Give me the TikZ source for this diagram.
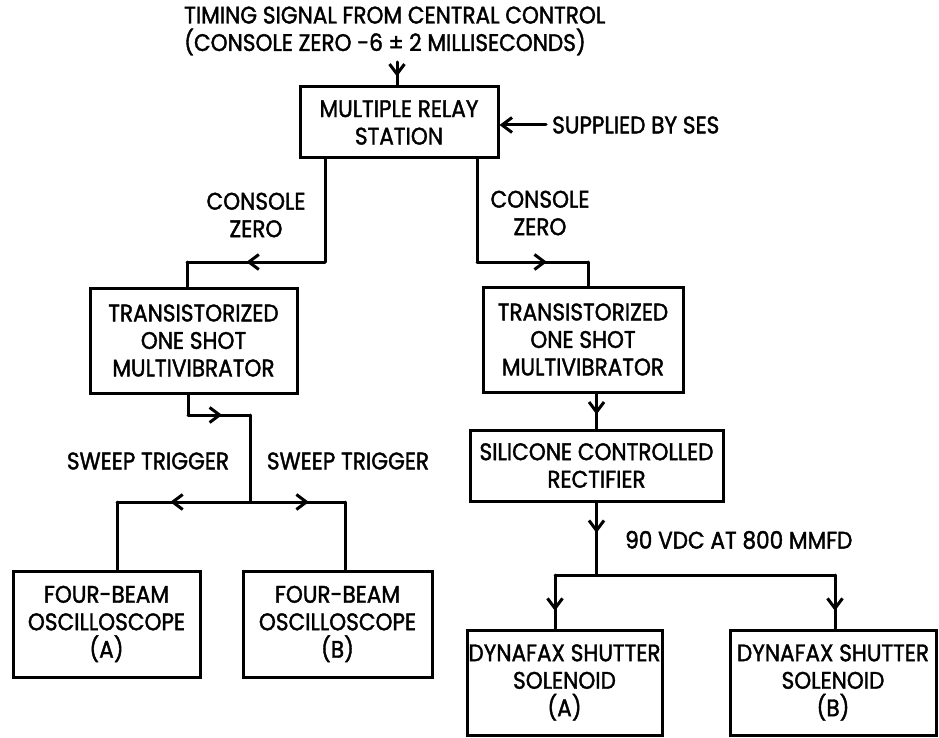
\documentclass[tikz,border=0pt]{standalone}
\usepackage{fontspec}
\setmainfont{Poppins}[FakeStretch=0.9, FakeBold=1.6]
\usetikzlibrary{arrows.meta,decorations.markings}
\tikzset{
  wire/.style={line width=3pt, line cap=round, line join=round},
  box/.style={draw, line width=3pt, align=center, inner sep=0pt, font=\fontsize{24}{27.5}\selectfont},
  lbl/.style={align=center, inner sep=0pt, font=\fontsize{24}{27.5}\selectfont},
  barb/.style={postaction={decorate}, decoration={markings, mark=at position #1 with {\arrow[line width=3pt]{Straight Barb[length=10pt,width=15pt]}}}}
}
\begin{document}
\begin{tikzpicture}[x=1pt,y=-1pt]
\useasboundingbox (0,0) rectangle (939,738);
% texts
\node[lbl, align=left, anchor=west] (top) at (184,31) {TIMING SIGNAL FROM CENTRAL CONTROL\\(CONSOLE ZERO -6 ± 2 MILLISECONDS)};
\node[box, minimum width=198, minimum height=71] (mrs) at (399,122.5) {MULTIPLE RELAY\\STATION};
\node[lbl, anchor=west] (sup) at (552,125) {SUPPLIED BY SES};
\node[lbl] (cz1) at (256,215) {CONSOLE\\ZERO};
\node[lbl] (cz2) at (540,213) {CONSOLE\\ZERO};
\node[box, minimum width=207, minimum height=105] (tos1) at (193.5,340.5) {TRANSISTORIZED\\ONE SHOT\\MULTIVIBRATOR};
\node[box, minimum width=200, minimum height=105] (tos2) at (583,339.5) {TRANSISTORIZED\\ONE SHOT\\MULTIVIBRATOR};
\node[box, minimum width=253, minimum height=71] (scr) at (596.5,465.5) {SILICONE CONTROLLED\\RECTIFIER};
\node[lbl] (sw1) at (148,461) {SWEEP TRIGGER};
\node[lbl] (sw2) at (348,461) {SWEEP TRIGGER};
\node[lbl, anchor=west] (vdc) at (625,540) {90 VDC AT 800 MMFD};
\node[box, minimum width=187, minimum height=106] (osA) at (106.5,624) {FOUR-BEAM\\OSCILLOSCOPE\\(A)};
\node[box, minimum width=189, minimum height=106] (osB) at (337.5,624) {FOUR-BEAM\\OSCILLOSCOPE\\(B)};
\node[box, minimum width=195, minimum height=105] (dyA) at (564.5,682.5) {DYNAFAX SHUTTER\\SOLENOID\\(A)};
\node[box, minimum width=206, minimum height=105] (dyB) at (833,682.5) {DYNAFAX SHUTTER\\SOLENOID\\(B)};
% coordinates
\coordinate (t0) at (397,62);
\coordinate (l1) at (325,262);
\coordinate (l2) at (187,262);
\coordinate (r1) at (477,262);
\coordinate (r2) at (588,262);
\coordinate (s1) at (188,415);
\coordinate (s2) at (250,415);
\coordinate (s3) at (250,502);
\coordinate (s4) at (117,502);
\coordinate (s5) at (345,502);
\coordinate (d1) at (589,575);
\coordinate (d2) at (555,575);
\coordinate (d3) at (835,575);
\coordinate (sp) at (546,125);
% connectors
\draw[wire, barb=0.62] (t0) -- (t0 |- mrs.north);
\draw[wire, -{Straight Barb[length=10pt,width=15pt]}] (sp) -- (mrs.east |- sp);
\draw[wire] (mrs.south -| l1) -- (l1);
\draw[wire, barb=0.57] (l1) -- (l2);
\draw[wire] (l2) -- (tos1.north -| l2);
\draw[wire] (mrs.south -| r1) -- (r1);
\draw[wire, barb=0.63] (r1) -- (r2);
\draw[wire] (r2) -- (tos2.north -| r2);
\draw[wire] (tos1.south -| s1) -- (s1);
\draw[wire, barb=0.55] (s1) -- (s2);
\draw[wire] (s2) -- (s3);
\draw[wire, barb=0.6] (s3) -- (s4);
\draw[wire, barb=0.62] (s3) -- (s5);
\draw[wire] (s4) -- (osA.north -| s4);
\draw[wire] (s5) -- (osB.north -| s5);
\draw[wire, barb=0.6] (tos2.south -| scr.north) -- (scr.north);
\draw[wire, barb=0.42] (scr.south) -- (scr.south |- d1);
\draw[wire] (d2) -- (d3);
\draw[wire, barb=0.67] (d2) -- (dyA.north -| d2);
\draw[wire, barb=0.67] (d3) -- (dyB.north -| d3);
\end{tikzpicture}
\end{document}
